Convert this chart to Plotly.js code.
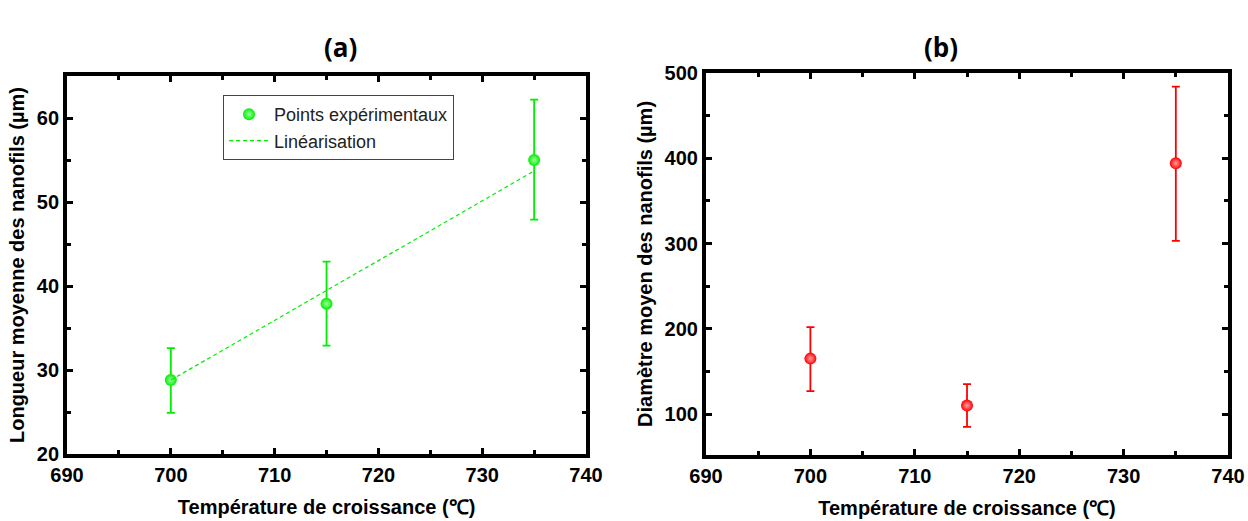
<!DOCTYPE html>
<html>
<head>
<meta charset="utf-8">
<script src="https://cdn.plot.ly/plotly-3.0.1.min.js"></script>
<style>html,body{margin:0;padding:0;background:#fff;}#chart{width:1248px;height:521px;}</style>
</head>
<body>
<div id="chart"></div>
<script>
// Data
const temperatures = [700, 715, 735];
const lengthMean = [28.8, 37.9, 55.0];
const lengthErrPlus = [3.8, 5.0, 7.2];
const lengthErrMinus = [3.9, 5.0, 7.1];
const fitX = [700, 735];
const fitY = [28.8, 53.7];
const diameterMean = [165, 110, 394];
const diameterErrPlus = [37, 25, 90];
const diameterErrMinus = [38, 25, 91];

const xTitle = 'Température de croissance (℃)';
const yTitleA = 'Longueur moyenne des nanofils (µm)';
const yTitleB = 'Diamètre moyen des nanofils (µm)';
const legendPoints = 'Points expérimentaux';
const legendFit = 'Linéarisation';

const green = '#00ee00';
const red = '#ff0000';
const font = 'Arial, "Liberation Sans", sans-serif';

const traces = [
  {
    x: temperatures, y: lengthMean, type: 'scatter', mode: 'markers',
    name: legendPoints, xaxis: 'x', yaxis: 'y',
    marker: {color: green, size: 12, gradient: {type: 'radial', color: '#a0ffa0'}, line: {width: 0}},
    error_y: {type: 'data', symmetric: false, array: lengthErrPlus, arrayminus: lengthErrMinus,
              color: green, thickness: 1.8, width: 4}
  },
  {
    x: fitX, y: fitY, type: 'scatter', mode: 'lines', name: legendFit,
    xaxis: 'x', yaxis: 'y',
    line: {color: green, width: 1.2, dash: '4px,3px'}
  },
  {
    x: temperatures, y: diameterMean, type: 'scatter', mode: 'markers',
    showlegend: false, xaxis: 'x2', yaxis: 'y2',
    marker: {color: red, size: 12, gradient: {type: 'radial', color: '#ffa0a0'}, line: {width: 0}},
    error_y: {type: 'data', symmetric: false, array: diameterErrPlus, arrayminus: diameterErrMinus,
              color: red, thickness: 1.8, width: 4}
  }
];

function xAxis(domain, anchor) {
  return {
    domain: domain, anchor: anchor, range: [690, 740], dtick: 10, tick0: 690,
    showline: true, linewidth: 4, linecolor: '#000', mirror: 'ticks',
    ticks: 'inside', ticklen: 6, tickwidth: 3, tickcolor: '#000',
    minor: {ticks: 'inside', ticklen: 4, tickwidth: 3, dtick: 5, tickcolor: '#000', showgrid: false},
    showgrid: false, zeroline: false,
    tickfont: {family: font, size: 20, color: '#000', weight: 'bold'},
    title: {text: xTitle, font: {family: font, size: 20, color: '#000', weight: 'bold'}, standoff: 16}
  };
}
function yAxis(domain, anchor, range, dtick, minorD, title) {
  return {
    domain: domain, anchor: anchor, range: range, dtick: dtick, tick0: 0,
    showline: true, linewidth: 4, linecolor: '#000', mirror: 'ticks',
    ticks: 'inside', ticklen: 6, tickwidth: 3, tickcolor: '#000',
    minor: {ticks: 'inside', ticklen: 4, tickwidth: 3, dtick: minorD, tickcolor: '#000', showgrid: false},
    showgrid: false, zeroline: false,
    tickfont: {family: font, size: 20, color: '#000', weight: 'bold'},
    title: {text: title, font: {family: font, size: 20, color: '#000', weight: 'bold'}, standoff: 8}
  };
}

const layout = {
  width: 1248, height: 521,
  margin: {l: 0, r: 0, t: 0, b: 0},
  paper_bgcolor: '#fff', plot_bgcolor: '#fff',
  showlegend: true,
  xaxis: xAxis([0.0537, 0.4696], 'y'),
  yaxis: yAxis([0.1286, 0.854], 'x', [20, 65], 10, 5, yTitleA),
  xaxis2: xAxis([0.5657, 0.984], 'y2'),
  yaxis2: yAxis([0.1267, 0.860], 'x2', [52, 500], 100, 50, yTitleB),
  legend: {
    x: 223/1248, y: (521-95)/521, xanchor: 'left', yanchor: 'top',
    bgcolor: '#fff', bordercolor: '#444', borderwidth: 1,
    font: {family: font, size: 18, color: '#222'},
    tracegroupgap: 0, itemwidth: 40
  },
  annotations: [
    {text: '(a)', x: 322/1248, y: 1 - 27/521, xref: 'paper', yref: 'paper',
     showarrow: false, font: {family: '"Open Sans", sans-serif', size: 26, color: '#000', weight: 'bold'}},
    {text: '(b)', x: 960/1248, y: 1 - 27/521, xref: 'paper', yref: 'paper',
     showarrow: false, font: {family: '"Open Sans", sans-serif', size: 26, color: '#000', weight: 'bold'}}
  ]
};

Plotly.newPlot('chart', traces, layout, {displayModeBar: false, staticPlot: true});
</script>
</body>
</html>
